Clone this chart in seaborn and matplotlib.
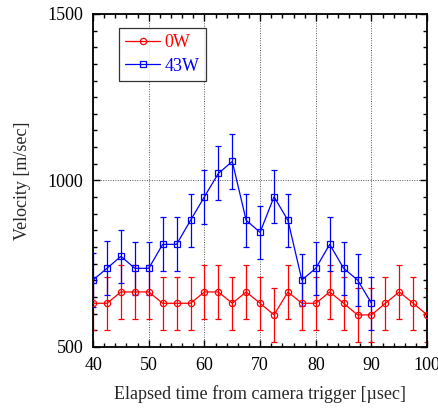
import seaborn as sns
import matplotlib.pyplot as plt
import pandas as pd
from matplotlib.ticker import MultipleLocator

sns.set_theme(style="ticks")
plt.rcParams['font.family'] = ['Liberation Serif', 'DejaVu Serif']

time_0w = [40, 42.5, 45, 47.5, 50, 52.5, 55, 57.5, 60, 62.5, 65, 67.5, 70,
           72.5, 75, 77.5, 80, 82.5, 85, 87.5, 90, 92.5, 95, 97.5, 100]
vel_0w = [631, 631, 665, 665, 665, 631, 631, 631, 665, 665, 631, 665, 631,
          596, 665, 631, 631, 665, 631, 596, 596, 631, 665, 631, 596]
err_0w = [80, 80, 80, 80, 80, 80, 80, 80, 80, 80, 80, 80, 80,
          80, 80, 80, 80, 80, 80, 80, 80, 80, 80, 80, 80]

time_43w = [40, 42.5, 45, 47.5, 50, 52.5, 55, 57.5, 60, 62.5, 65, 67.5, 70,
            72.5, 75, 77.5, 80, 82.5, 85, 87.5, 90]
vel_43w = [701, 736, 772, 736, 736, 808, 808, 880, 951, 1021, 1057, 880, 844,
           951, 880, 701, 736, 808, 736, 701, 631]
err_43w = [80, 81, 80, 80, 80, 81, 81, 80, 81, 81, 82, 80, 80,
           80, 80, 79, 80, 81, 80, 79, 80]

fig, ax = plt.subplots(figsize=(4.39, 4.11), dpi=100)
fig.subplots_adjust(left=0.212, right=0.973, bottom=0.156, top=0.966)

series = [
    ("0W", time_0w, vel_0w, err_0w, "#ff0000", "o"),
    ("43W", time_43w, vel_43w, err_43w, "#0000ff", "s"),
]

for name, t, v, e, color, marker in series:
    df = pd.DataFrame({"time": t, "velocity": v})
    sns.lineplot(data=df, x="time", y="velocity", ax=ax, color=color,
                 marker=marker, markersize=4.5, markerfacecolor="none",
                 markeredgecolor=color, markeredgewidth=0.9,
                 linewidth=0.9, label=name, zorder=3)
    ax.errorbar(t, v, yerr=e, fmt="none", ecolor=color, elinewidth=0.9,
                capsize=2, capthick=0.9, zorder=2)

ax.set_xlim(40, 100)
ax.set_ylim(500, 1500)
ax.xaxis.set_major_locator(MultipleLocator(10))
ax.xaxis.set_minor_locator(MultipleLocator(2))
ax.yaxis.set_major_locator(MultipleLocator(500))
ax.yaxis.set_minor_locator(MultipleLocator(50))
ax.tick_params(which="both", direction="in", top=True, right=True,
               labelsize=13, colors="black")
ax.tick_params(which="major", length=5, width=1, pad=7)
ax.tick_params(which="minor", length=3, width=1)
ax.grid(True, which="major", color="#555555", linestyle=(0, (1, 1.5)),
        linewidth=0.7)
for s in ax.spines.values():
    s.set_linewidth(1.3)
    s.set_color("black")

ax.set_xlabel("Elapsed time from camera trigger [\u00b5sec]", fontsize=13,
              labelpad=8)
ax.set_ylabel("Velocity [m/sec]", fontsize=13, labelpad=12)

leg = ax.legend(loc="upper left", bbox_to_anchor=(0.078, 0.958), fontsize=13,
                frameon=True, fancybox=False, edgecolor="black",
                handlelength=1.9, handletextpad=0.25, borderpad=0.35,
                labelspacing=0.35, borderaxespad=0)
leg.get_frame().set_linewidth(0.9)
for text, (_, _, _, _, color, _) in zip(leg.get_texts(), series):
    text.set_color(color)

fig.savefig("out.png", dpi=100)
